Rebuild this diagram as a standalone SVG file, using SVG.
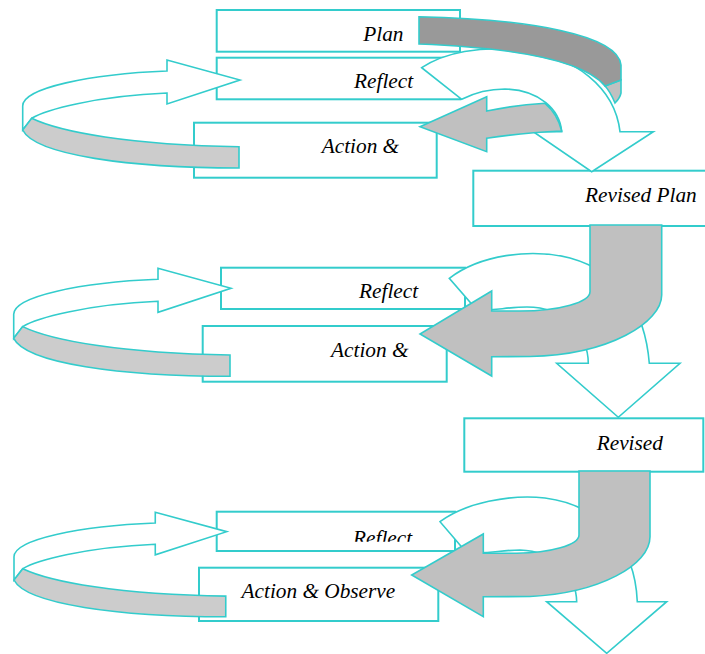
<svg xmlns="http://www.w3.org/2000/svg" width="705" height="654" viewBox="0 0 705 654">
<style>
.box{fill:#fff;stroke:#33cccc;stroke-width:2}
.w{fill:#fff;stroke:#33cccc;stroke-width:1.6;stroke-linejoin:miter}
.g{fill:#c0c0c0;stroke:#33cccc;stroke-width:1.6}
.lg{fill:#cccccc;stroke:#33cccc;stroke-width:1.6}
.dg{fill:#999999;stroke:#33cccc;stroke-width:1.6}
.t{font-family:"Liberation Serif","Times New Roman",serif;font-style:italic;font-size:21.3px;fill:#000}
.ns{vector-effect:non-scaling-stroke}
</style>
<defs>
<g id="loop">
<path class="w ns" d="M22.7,130 L22.7,106 C22.7,88 90,74 167,71 L167,60 L240,80 L167,104 L167,93 C95,96 45,110 31.7,118.3 Z"/>
<path class="lg ns" d="M31.7,118.3 C60,132 130,145 239,146.7 L239,168 C130,168 35,155 22.7,130 Z"/>
</g>
<clipPath id="clipR"><rect x="216" y="500" width="250" height="41.7"/></clipPath>
</defs>

<g id="plan"><rect class="box" x="216.7" y="10" width="243.3" height="41.7"/><text class="t" x="363.3" y="40.7">Plan</text></g>
<g id="reflect1"><rect class="box" x="216.7" y="57.7" width="243.3" height="41.6"/><text class="t" x="354" y="88.3">Reflect</text></g>
<g id="action1"><rect class="box" x="194" y="122.7" width="242.7" height="55"/><text class="t" x="321.7" y="153.3">Action &amp;</text></g>
<g id="revisedplan"><rect class="box" x="473.3" y="170.7" width="240" height="55.3"/><text class="t" x="585" y="201.7">Revised Plan</text></g>
<g id="reflect2"><rect class="box" x="221" y="267.7" width="244" height="41.3"/><text class="t" x="359" y="298.3">Reflect</text></g>
<g id="action2"><rect class="box" x="202.7" y="326" width="244" height="55.7"/><text class="t" x="331" y="356.7">Action &amp;</text></g>
<g id="revised"><rect class="box" x="464.3" y="418.3" width="239" height="53.4"/><text class="t" x="596.7" y="450">Revised</text></g>
<g id="reflect3"><rect class="box" x="216.7" y="511.7" width="238.3" height="39.3"/><text class="t" x="353" y="545" clip-path="url(#clipR)">Reflect</text></g>
<g id="action3"><rect class="box" x="199" y="567.7" width="239.3" height="53.3"/><text class="t" x="241.5" y="598.3">Action &amp; Observe</text></g>

<g id="connectors">
<use href="#loop"/>
<use href="#loop" transform="translate(-9,208.3)"/>
<use href="#loop" transform="translate(14,512.3) scale(0.979,0.967) translate(-22.7,-60)"/>

<path class="w" d="M421.7,67.7 C445,52 480,46 520,50 C575,55 615,88 620,131.7 L653.3,131.7 L591.7,171.7 L533.3,131.7 L561.7,131.7 C560,110 540,90 505,89 C485,89 472,94 461.7,99.3 Z"/>
<path class="g" d="M420,126.7 L486.7,96.7 L486.7,111 Q515,105 545,103.3 C553,110 559,120 561.7,131 Q520,133 486.7,138.3 L486.7,151.7 Z"/>
<path class="g" d="M605,86 L621,80 L621,93 C620,98 617,101 615,103 C612,96 609,90 605,86 Z"/>
<path class="dg" d="M419,16.7 C530,19 618,35 621,65 L621,80 L605,86 C585,62 520,48 419,44 Z"/>

<path class="w" d="M449.3,278.3 C480,255 530,248 570,258 C620,272 645,310 649.3,363.3 L680,363.3 L618.3,417.3 L556.7,363.3 L588.3,363.3 C588,335 565,307 527,307 C505,307 490,312 476,309 Z"/>
<path class="g" d="M590,225 L661.7,225 L661.7,295 C661.7,322 610,355 530,356.5 L491.7,356.7 L491.7,376 L420,334 L491.7,291 L491.7,311 L520,311 C560,311 590,302 590,291.7 Z"/>

<path class="w" d="M440,521.7 C465,503 510,494 545,498 C600,505 635,545 637.3,601.7 L666.7,601.7 L606.7,653.3 L546.7,601.7 L576.7,601.7 C576,575 555,551 520,550 C500,550 485,555 466,552 Z"/>
<path class="g" d="M579,471 L650,471 L650,536.7 C650,565 600,593 530,596.5 L483.3,596.7 L483.3,616.7 L411.7,575 L483.3,534 L483.3,553.3 L516.7,553.3 C550,553 579,545 579,535 Z"/>
</g>
</svg>
